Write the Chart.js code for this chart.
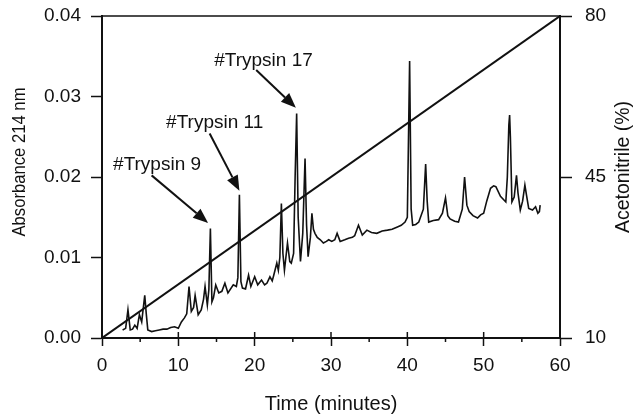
<!DOCTYPE html>
<html>
<head>
<meta charset="utf-8">
<script src="https://cdn.jsdelivr.net/npm/chart.js@4.4.1/dist/chart.umd.min.js"></script>
<style>
  html, body { margin: 0; padding: 0; background: #fff; }
  #wrap { width: 641px; height: 416px; position: relative; }
</style>
</head>
<body>
<div id="wrap"><canvas id="c" width="641" height="416"></canvas></div>
<script>
// ---- data ----
const times = [2.7,3.1,3.4,3.7,4.0,4.3,4.6,4.9,5.2,5.6,5.8,6.0,6.5,7.0,7.5,8.0,8.5,9.0,9.5,10.0,10.4,10.8,11.1,11.4,11.7,12.0,12.2,12.6,13.0,13.3,13.5,13.8,14.0,14.2,14.4,14.6,14.9,15.3,15.7,16.1,16.5,17.2,17.6,17.8,18.0,18.2,18.4,18.8,19.2,19.5,20.0,20.4,20.9,21.3,21.6,22.0,22.3,22.5,22.9,23.1,23.3,23.5,23.7,23.9,24.3,24.6,24.8,25.1,25.3,25.5,25.7,26.0,26.3,26.6,26.8,27.0,27.3,27.5,27.7,27.9,28.2,28.6,29.0,29.4,29.7,30.1,30.5,30.8,31.2,31.8,32.3,32.8,33.1,33.6,34.1,34.7,35.3,36.0,36.7,37.4,38.0,38.7,39.2,39.7,40.0,40.3,40.5,40.7,41.1,41.5,42.1,42.4,42.6,42.8,43.4,44.1,44.6,45.0,45.3,45.6,46.2,46.7,47.2,47.5,47.8,48.1,48.6,49.2,49.6,50.0,50.4,50.9,51.3,51.6,52.2,52.9,53.1,53.3,53.4,53.5,53.7,54.0,54.3,54.5,54.8,55.1,55.4,55.6,55.9,56.4,56.8,57.1,57.3,57.4];
const absorbance = [0.0010,0.0012,0.0035,0.0010,0.0011,0.0016,0.0012,0.0029,0.0020,0.0053,0.0030,0.0010,0.0008,0.0009,0.0010,0.0011,0.0011,0.0013,0.0014,0.0012,0.0020,0.0025,0.0030,0.0064,0.0033,0.0038,0.0053,0.0029,0.0035,0.0048,0.0064,0.0041,0.0060,0.0136,0.0045,0.0050,0.0066,0.0056,0.0058,0.0068,0.0056,0.0066,0.0064,0.0075,0.0178,0.0070,0.0062,0.0061,0.0078,0.0064,0.0076,0.0066,0.0072,0.0066,0.0068,0.0076,0.0071,0.0078,0.0093,0.0084,0.0100,0.0167,0.0105,0.0084,0.0118,0.0095,0.0093,0.0105,0.0200,0.0279,0.0150,0.0095,0.0130,0.0223,0.0140,0.0101,0.0125,0.0155,0.0135,0.0130,0.0125,0.0122,0.0118,0.0120,0.0122,0.0120,0.0122,0.0130,0.0120,0.0122,0.0124,0.0125,0.0127,0.0140,0.0128,0.0134,0.0131,0.0130,0.0133,0.0134,0.0135,0.0138,0.0140,0.0144,0.0150,0.0344,0.0160,0.0140,0.0141,0.0144,0.0160,0.0216,0.0170,0.0144,0.0146,0.0147,0.0155,0.0174,0.0152,0.0148,0.0145,0.0144,0.0160,0.0200,0.0165,0.0157,0.0152,0.0149,0.0153,0.0155,0.0170,0.0186,0.0189,0.0188,0.0176,0.0169,0.0200,0.0265,0.0277,0.0250,0.0169,0.0175,0.0202,0.0180,0.0159,0.0170,0.0190,0.0178,0.0161,0.0159,0.0163,0.0155,0.0157,0.0165];
const gradientTimes = [0, 60];
const gradientAcetonitrile = [10, 80];
const timeTicks = [0, 10, 20, 30, 40, 50, 60];
const absorbanceTicks = [0, 0.01, 0.02, 0.03, 0.04];
const acetonitrileTicks = [10, 45, 80];
const peakLabels = ['#Trypsin 9', '#Trypsin 11', '#Trypsin 17'];

// annotation placement (data coordinates)
const annotationPlacement = [
  { text: [1.45, 0.0215], from: [6.5, 0.0202], to: [13.9, 0.0143] },
  { text: [8.4, 0.0267],  from: [14.1, 0.0254], to: [18.0, 0.0183] },
  { text: [14.7, 0.0344], from: [20.2, 0.0333], to: [25.4, 0.0286] }
];

const INK = '#111';
const FONT = '"Liberation Sans", Arial, Helvetica, sans-serif';

function fittedText(ctx, text, cx, cy, size, width) {
  ctx.save();
  ctx.font = size + 'px ' + FONT;
  const w = ctx.measureText(text).width;
  ctx.translate(cx, cy);
  ctx.rotate(-Math.PI / 2);
  ctx.scale(width / w, 1);
  ctx.fillText(text, 0, 0);
  ctx.restore();
}

const zeroPad = s => { s.paddingTop = 0; s.paddingBottom = 0; s.paddingLeft = 0; s.paddingRight = 0; };

const framePlugin = {
  id: 'frame',
  afterDraw(chart) {
    const { ctx, chartArea: a, scales } = chart;
    const x = scales.x;
    ctx.save();
    ctx.strokeStyle = INK;
    ctx.lineWidth = 1.5;
    ctx.beginPath(); ctx.moveTo(a.left, a.top); ctx.lineTo(a.right, a.top); ctx.stroke();
    for (let t = 0; t <= 60; t += 5) {
      const px = x.getPixelForValue(t);
      ctx.beginPath();
      if (t % 10 === 0) { ctx.moveTo(px, a.bottom); ctx.lineTo(px, a.bottom - 6); }
      else { ctx.moveTo(px, a.bottom); ctx.lineTo(px, a.bottom + 4); }
      ctx.stroke();
    }
    ctx.fillStyle = INK;
    ctx.textAlign = 'center';
    ctx.textBaseline = 'middle';
    fittedText(ctx, 'Absorbance 214 nm', 20, 162, 19, 149);
    fittedText(ctx, 'Acetonitrile (%)', 624, 167, 19.5, 132);

    const ys = scales.y;
    annotationPlacement.forEach((p, i) => {
      const tx = x.getPixelForValue(p.text[0]), ty = ys.getPixelForValue(p.text[1]);
      ctx.font = '19px ' + FONT;
      ctx.textAlign = 'left';
      ctx.textBaseline = 'middle';
      ctx.fillText(peakLabels[i], tx, ty);
      const fx = x.getPixelForValue(p.from[0]), fy = ys.getPixelForValue(p.from[1]);
      const ex = x.getPixelForValue(p.to[0]), ey = ys.getPixelForValue(p.to[1]);
      const ang = Math.atan2(ey - fy, ex - fx);
      const L = 15, W = 6;
      const bx = ex - L * Math.cos(ang), by = ey - L * Math.sin(ang);
      ctx.lineWidth = 2;
      ctx.beginPath(); ctx.moveTo(fx, fy); ctx.lineTo(bx, by); ctx.stroke();
      ctx.beginPath();
      ctx.moveTo(ex, ey);
      ctx.lineTo(bx + W * Math.sin(ang), by - W * Math.cos(ang));
      ctx.lineTo(bx - W * Math.sin(ang), by + W * Math.cos(ang));
      ctx.closePath(); ctx.fill();
    });
    ctx.restore();
  }
};

new Chart(document.getElementById('c'), {
  type: 'line',
  data: {
    datasets: [
      {
        label: 'Absorbance',
        data: times.map((t, i) => ({ x: t, y: absorbance[i] })),
        borderColor: INK, borderWidth: 1.6, pointRadius: 0, tension: 0, yAxisID: 'y'
      },
      {
        label: 'Acetonitrile',
        data: gradientTimes.map((t, i) => ({ x: t, y: gradientAcetonitrile[i] })),
        borderColor: INK, borderWidth: 2, pointRadius: 0, tension: 0, yAxisID: 'y2'
      }
    ]
  },
  options: {
    responsive: false,
    animation: false,
    layout: { padding: { top: 16, left: 0, right: 0, bottom: 0 } },
    plugins: { legend: { display: false }, tooltip: { enabled: false } },
    scales: {
      x: {
        type: 'linear', min: 0, max: 60,
        afterBuildTicks: s => { s.ticks = timeTicks.map(v => ({ value: v })); },
        afterFit: s => { s.height = 78; zeroPad(s); },
        ticks: { color: INK, font: { size: 19, family: FONT }, padding: 8, maxRotation: 0 },
        grid: { drawOnChartArea: false, drawTicks: true, tickLength: 8, color: INK, tickWidth: 1.5 },
        border: { display: true, color: INK, width: 2 },
        title: { display: true, text: 'Time (minutes)', color: INK, font: { size: 20, family: FONT }, padding: { top: 4, bottom: 0 } }
      },
      y: {
        type: 'linear', position: 'left', min: 0, max: 0.04,
        afterBuildTicks: s => { s.ticks = absorbanceTicks.map(v => ({ value: v })); },
        afterFit: s => { s.width = 102; zeroPad(s); },
        ticks: { color: INK, font: { size: 19, family: FONT }, padding: 10, callback: v => v.toFixed(2) },
        grid: { drawOnChartArea: false, drawTicks: true, tickLength: 11, color: INK, tickWidth: 1.5 },
        border: { display: true, color: INK, width: 2 }
      },
      y2: {
        type: 'linear', position: 'right', min: 10, max: 80,
        afterBuildTicks: s => { s.ticks = acetonitrileTicks.map(v => ({ value: v })); },
        afterFit: s => { s.width = 81; zeroPad(s); },
        ticks: { color: INK, font: { size: 19, family: FONT }, padding: 13 },
        grid: { drawOnChartArea: false, drawTicks: true, tickLength: 12, color: INK, tickWidth: 1.5 },
        border: { display: true, color: INK, width: 2 }
      }
    }
  },
  plugins: [framePlugin]
});
</script>
</body>
</html>
